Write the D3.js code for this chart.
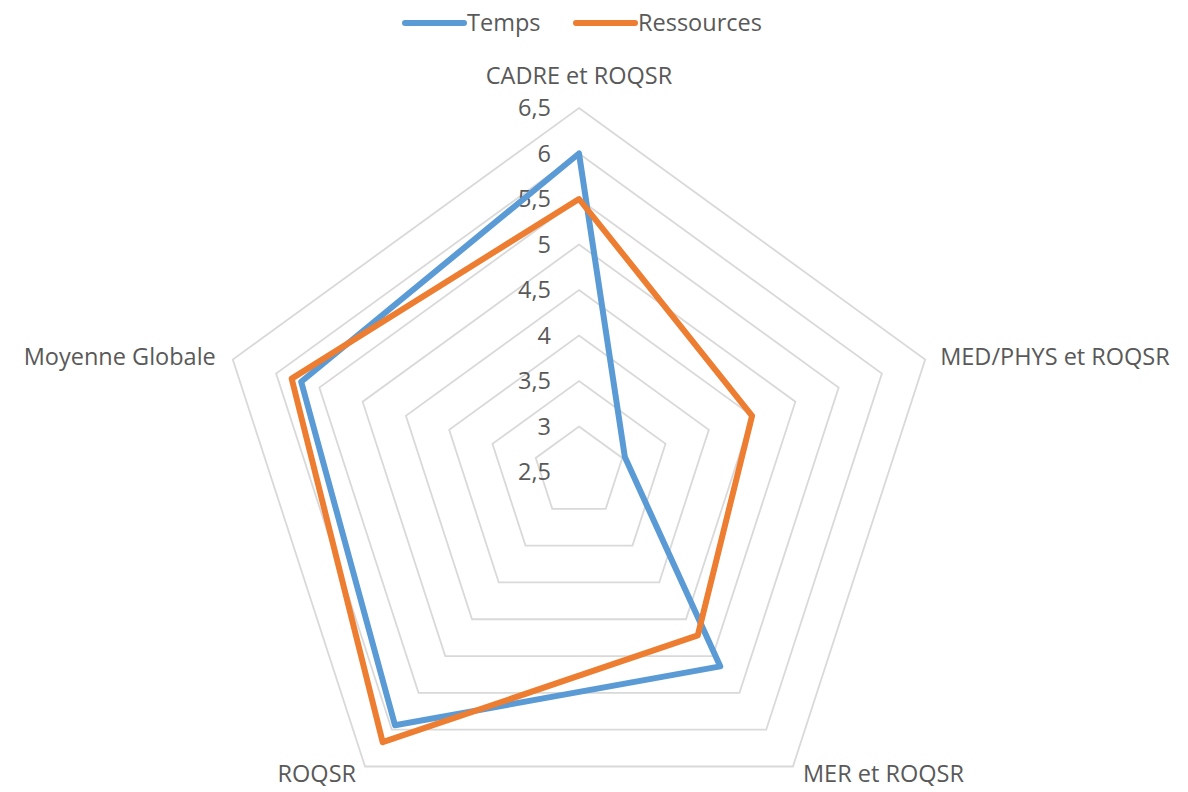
<!DOCTYPE html>
<html>
<head>
<meta charset="utf-8">
<script src="https://cdn.jsdelivr.net/npm/d3@7"></script>
<style>
  html, body { margin: 0; padding: 0; background: #fff; }
  svg { display: block; font-family: "Open Sans", "Liberation Sans", sans-serif; }
</style>
</head>
<body>
<svg id="chart" width="1188" height="792"></svg>
<script>
const categories = ["CADRE et ROQSR", "MED/PHYS et ROQSR", "MER et ROQSR", "ROQSR", "Moyenne Globale"];
const seriesNames = ["Temps", "Ressources"];
const temps = [6.0, 3.03, 5.14, 5.94, 5.71];
const ressources = [5.5, 4.5, 4.72, 6.17, 5.82];
const tickValues = [2.5, 3, 3.5, 4, 4.5, 5, 5.5, 6, 6.5];
const colors = ["#5B9BD5", "#ED7D31"];

const svg = d3.select("#chart");
const cx = 579, cy = 472, R = 364;
const fontSize = "23.5px";
const r = d3.scaleLinear().domain([2.5, 6.5]).range([0, R]);
const angle = d3.scaleLinear().domain([0, categories.length]).range([-Math.PI / 2, 1.5 * Math.PI]);
const fr = d3.formatLocale({decimal: ",", thousands: " ", grouping: [3], currency: ["", "€"]}).format("~g");

const pt = (i, v) => [cx + r(v) * Math.cos(angle(i)), cy + r(v) * Math.sin(angle(i))];

const g = svg.append("g");

// grid pentagons
const ringVals = tickValues.filter(v => v > 2.5);
g.selectAll("path.ring").data(ringVals).join("path")
  .attr("class", "ring")
  .attr("d", v => d3.line()(categories.map((c, i) => pt(i, v))) + "Z")
  .attr("fill", "none")
  .attr("stroke", "#D9D9D9")
  .attr("stroke-width", 1.8);

// tick labels
g.selectAll("text.tick").data(tickValues).join("text")
  .attr("class", "tick")
  .attr("x", cx - 28)
  .attr("y", v => cy - r(v))
  .attr("dy", "0.35em")
  .attr("text-anchor", "end")
  .attr("fill", "#595959")
  .style("font-size", fontSize)
  .text(v => fr(v));

// category labels
const labelOffsets = [
  {dx: 0, dy: -32, anchor: "middle"},
  {dx: 15, dy: -3, anchor: "start"},
  {dx: 10, dy: 7, anchor: "start"},
  {dx: -9, dy: 7, anchor: "end"},
  {dx: -17, dy: -3, anchor: "end"}
];
g.selectAll("text.cat").data(categories).join("text")
  .attr("class", "cat")
  .attr("x", (c, i) => pt(i, 6.5)[0] + labelOffsets[i].dx)
  .attr("y", (c, i) => pt(i, 6.5)[1] + labelOffsets[i].dy)
  .attr("dy", "0.35em")
  .attr("text-anchor", (c, i) => labelOffsets[i].anchor)
  .attr("fill", "#595959")
  .style("font-size", fontSize)
  .text(c => c);

// series
const series = [temps, ressources];
g.selectAll("path.series").data(series).join("path")
  .attr("class", "series")
  .attr("d", vals => d3.line()(vals.map((v, i) => pt(i, v))) + "Z")
  .attr("fill", "none")
  .attr("stroke", (d, i) => colors[i])
  .attr("stroke-width", 6)
  .attr("stroke-linejoin", "round");

// legend
const legendX = [405, 576];
const leg = svg.append("g").selectAll("g").data(seriesNames).join("g")
  .attr("transform", (d, i) => `translate(${legendX[i]},23)`);
leg.append("line")
  .attr("x1", 0).attr("x2", 59).attr("y1", 0).attr("y2", 0)
  .attr("stroke", (d, i) => colors[i])
  .attr("stroke-width", 6)
  .attr("stroke-linecap", "round");
leg.append("text")
  .attr("x", 62).attr("y", 0).attr("dy", "0.35em")
  .attr("fill", "#595959")
  .style("font-size", fontSize)
  .text(d => d);
</script>
</body>
</html>
